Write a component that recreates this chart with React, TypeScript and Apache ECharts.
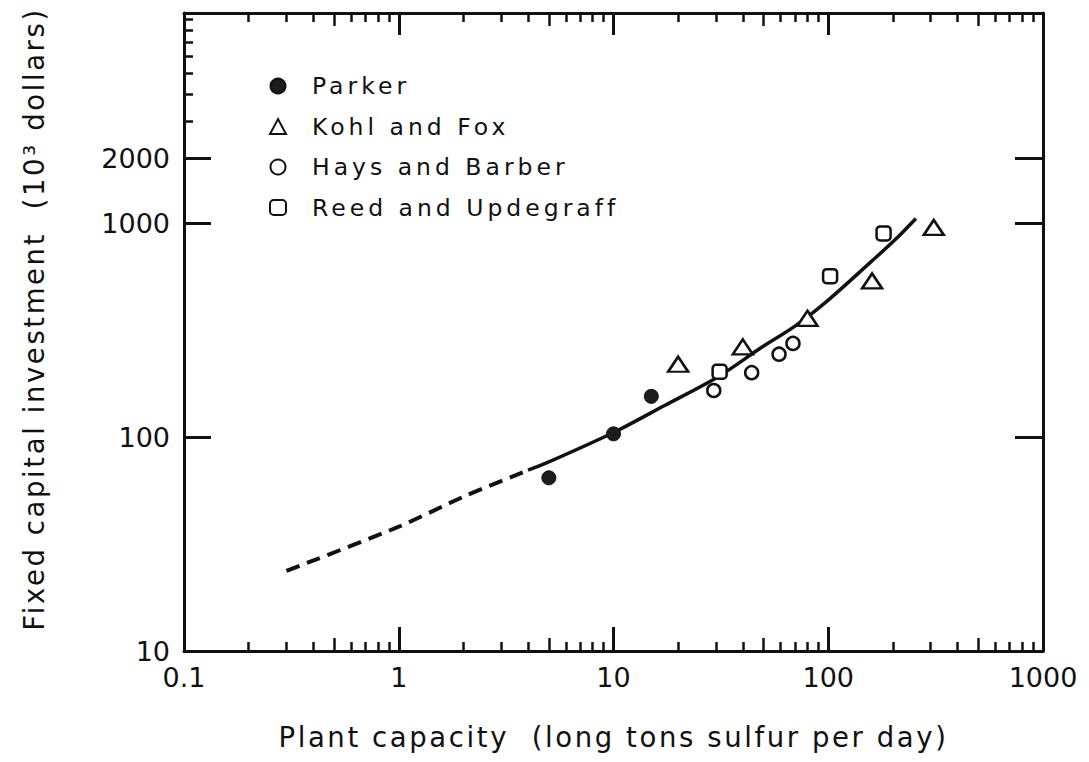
import React, { useEffect, useRef } from 'react';
import * as echarts from 'echarts';

// ---- tick values / labels ----
const xTickValues = [0.1, 1, 10, 100, 1000];
const xTickLabels = ['0.1', '1', '10', '100', '1000'];
const xHalfTicks = [0.5, 5, 50, 500];
const xMinorTicks = [
  0.2, 0.3, 0.4, 0.6, 0.7, 0.8, 0.9,
  2, 3, 4, 6, 7, 8, 9,
  20, 30, 40, 60, 70, 80, 90,
  200, 300, 400, 600, 700, 800, 900,
];
const yTickValues = [10, 100, 1000, 2000];
const yTickLabels = ['10', '100', '1000', '2000'];
const yMajorTicks = [100, 1000, 2000];
const yMinorTicks = [3000, 4000, 5000, 6000, 7000, 8000, 9000];

// ---- axis ranges ----
const xMin = 0.1;
const xMax = 1000;
const yMin = 10;
const yMax = 9600;

// ---- series data [capacity, investment] ----
const seriesNames = ['Parker', 'Kohl and Fox', 'Hays and Barber', 'Reed and Updegraff'];
const parker = [[5, 64.5], [10, 103.5], [15, 155]];
const kohlFox = [[20, 219], [40, 264], [80, 359], [160, 537], [310, 955]];
const haysBarber = [[29.3, 165], [44, 200], [59, 244], [68.5, 274]];
const reedUpdegraff = [[31.2, 202], [102, 565], [181, 895]];
const curveDashed = [[0.3, 23.7], [1, 38.1], [2, 52.6], [4, 70]];
const curveSolid = [
  [4, 70], [5, 76.5], [10, 105], [17.3, 140.5], [30.6, 191], [48.8, 262],
  [70, 330], [100, 437], [158, 659], [204, 833], [256, 1052],
];

const INK = '#111';
const FONT = "'DejaVu Sans', sans-serif";
const NAME_SIZE = 27.5;
const LEGEND_SIZE = 23.5;

function labelFrom(values: number[], labels: string[]) {
  return (v: number) => {
    const i = values.findIndex((t) => Math.abs(t - v) / t < 1e-6);
    return i >= 0 ? labels[i] : '';
  };
}

function tickAxis(base: any, position: string, ticks: number[], length: number, width: number) {
  return {
    ...base,
    position,
    axisLine: { show: false, onZero: false },
    axisTick: {
      show: true,
      inside: true,
      length,
      customValues: ticks,
      lineStyle: { color: INK, width },
    },
    axisLabel: { show: false },
    splitLine: { show: false },
    minorTick: { show: false },
  };
}

const css = `
.chart-root text[style*="${NAME_SIZE}px"] { letter-spacing: 2.6px; }
.chart-root text[style*="${LEGEND_SIZE}px"] { letter-spacing: 4px; }
`;

export default function App() {
  const ref = useRef<HTMLDivElement>(null);

  useEffect(() => {
    document.body.style.margin = '0';
    const chart = echarts.init(ref.current!, null, { renderer: 'svg' });

    const xBase = { type: 'log', logBase: 10, min: xMin, max: xMax, gridIndex: 0 };
    const yBase = { type: 'log', logBase: 10, min: yMin, max: yMax, gridIndex: 0 };

    const option: any = {
      animation: false,
      backgroundColor: '#fff',
      textStyle: { fontFamily: FONT, color: INK },
      grid: {
        left: 184,
        right: 46,
        top: 13,
        bottom: 111,
        containLabel: false,
        outerBoundsMode: 'none',
      },
      legend: {
        data: seriesNames,
        orient: 'vertical',
        left: 264,
        top: 69,
        itemWidth: 16,
        itemHeight: 15,
        itemGap: 16.5,
        selectedMode: false,
        formatter: '{t|{name}}',
        textStyle: {
          fontFamily: FONT,
          fontSize: LEGEND_SIZE,
          color: INK,
          rich: {
            t: {
              fontFamily: FONT,
              fontSize: LEGEND_SIZE,
              color: INK,
              lineHeight: 24,
              padding: [0, 0, 0, 21],
            },
          },
        },
      },
      xAxis: [
        {
          ...xBase,
          position: 'bottom',
          name: 'Plant capacity  (long tons sulfur per day)',
          nameLocation: 'middle',
          nameGap: 72,
          nameTextStyle: { fontFamily: FONT, fontSize: NAME_SIZE, color: INK },
          axisLine: { show: true, onZero: false, lineStyle: { color: INK, width: 3 } },
          axisTick: {
            show: true,
            inside: true,
            length: 24,
            customValues: xTickValues,
            lineStyle: { color: INK, width: 3 },
          },
          axisLabel: {
            show: true,
            customValues: xTickValues,
            formatter: labelFrom(xTickValues, xTickLabels),
            margin: 13,
            fontFamily: FONT,
            fontSize: 27,
            color: INK,
          },
          splitLine: { show: false },
        },
        tickAxis(xBase, 'bottom', xHalfTicks, 13, 2.5),
        tickAxis(xBase, 'bottom', xMinorTicks, 9, 2.5),
        {
          ...xBase,
          position: 'top',
          axisLine: { show: true, onZero: false, lineStyle: { color: INK, width: 3 } },
          axisTick: {
            show: true,
            inside: true,
            length: 22,
            customValues: xTickValues,
            lineStyle: { color: INK, width: 3 },
          },
          axisLabel: { show: false },
          splitLine: { show: false },
        },
        tickAxis(xBase, 'top', xHalfTicks, 13, 2.5),
        tickAxis(xBase, 'top', xMinorTicks, 9, 2.5),
      ],
      yAxis: [
        {
          ...yBase,
          position: 'left',
          name: 'Fixed capital investment  (10\u00B3 dollars)',
          nameLocation: 'middle',
          nameGap: 136,
          nameTextStyle: {
            fontFamily: FONT,
            fontSize: NAME_SIZE,
            color: INK,
            padding: [0, 0, 0, 26],
          },
          axisLine: { show: true, onZero: false, lineStyle: { color: INK, width: 3 } },
          axisTick: {
            show: true,
            inside: true,
            length: 27,
            customValues: yMajorTicks,
            lineStyle: { color: INK, width: 3 },
          },
          axisLabel: {
            show: true,
            customValues: yTickValues,
            formatter: labelFrom(yTickValues, yTickLabels),
            margin: 14,
            fontFamily: FONT,
            fontSize: 27,
            color: INK,
          },
          splitLine: { show: false },
        },
        tickAxis(yBase, 'left', yMinorTicks, 9, 2.5),
        {
          ...yBase,
          position: 'right',
          axisLine: { show: true, onZero: false, lineStyle: { color: INK, width: 3 } },
          axisTick: {
            show: true,
            inside: true,
            length: 28,
            customValues: yMajorTicks,
            lineStyle: { color: INK, width: 3 },
          },
          axisLabel: { show: false },
          splitLine: { show: false },
        },
      ],
      series: [
        {
          name: 'curve-dashed',
          type: 'line',
          data: curveDashed,
          symbol: 'none',
          smooth: 0.3,
          z: 1,
          lineStyle: { color: INK, width: 4, type: [14, 8] },
        },
        {
          name: 'curve',
          type: 'line',
          data: curveSolid,
          symbol: 'none',
          smooth: 0.3,
          z: 1,
          lineStyle: { color: INK, width: 3.5 },
        },
        {
          name: seriesNames[0],
          type: 'scatter',
          data: parker,
          symbol: 'circle',
          symbolSize: 14,
          z: 3,
          itemStyle: { color: '#1c1c1c', borderColor: INK, borderWidth: 1, opacity: 1 },
        },
        {
          name: seriesNames[1],
          type: 'scatter',
          data: kohlFox,
          symbol: 'triangle',
          symbolSize: [20, 15],
          z: 3,
          itemStyle: { color: '#fff', borderColor: INK, borderWidth: 2.5, opacity: 1 },
        },
        {
          name: seriesNames[2],
          type: 'scatter',
          data: haysBarber,
          symbol: 'circle',
          symbolSize: 13,
          z: 3,
          itemStyle: { color: '#fff', borderColor: INK, borderWidth: 2.5, opacity: 1 },
        },
        {
          name: seriesNames[3],
          type: 'scatter',
          data: reedUpdegraff,
          symbol: 'roundRect',
          symbolSize: 14,
          z: 3,
          itemStyle: { color: '#fff', borderColor: INK, borderWidth: 2.5, opacity: 1 },
        },
      ],
    };

    chart.setOption(option);
    return () => chart.dispose();
  }, []);

  return (
    <>
      <style>{css}</style>
      <div className="chart-root" ref={ref} style={{ width: 1089, height: 762 }} />
    </>
  );
}
